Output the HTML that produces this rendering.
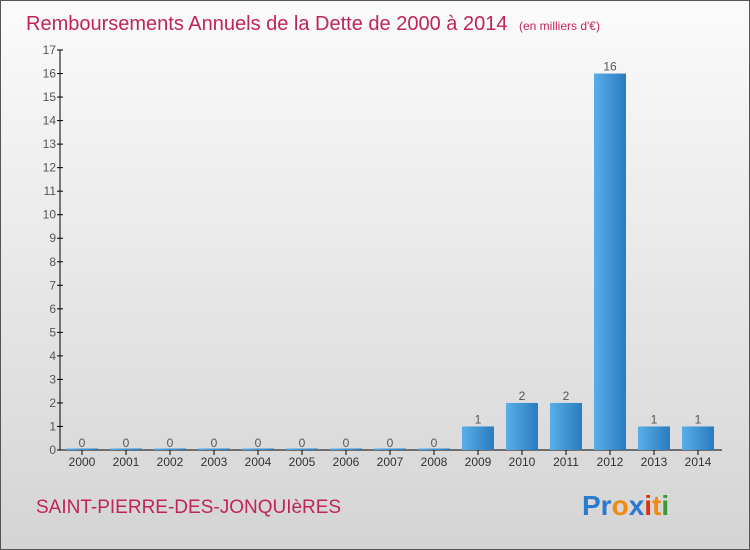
<!DOCTYPE html>
<html><head><meta charset="utf-8"><style>
body{margin:0;width:750px;height:550px;overflow:hidden;font-family:"Liberation Sans",sans-serif}
#wrap{position:absolute;left:0;top:0;width:748px;height:548px;border:1px solid #555;background:linear-gradient(#fbfbfb,#d4d4d4);}
</style></head><body>
<div id="wrap">
<svg width="750" height="550" style="position:absolute;left:-1px;top:-1px">
<defs><linearGradient id="bg" x1="0" x2="1"><stop offset="0" stop-color="#5aaee8"/><stop offset="1" stop-color="#2a7bbf"/></linearGradient>
<linearGradient id="bv" x1="0" y1="0" x2="0" y2="1"><stop offset="0" stop-color="#5cb0ea"/><stop offset="1" stop-color="#2574b6"/></linearGradient></defs>
<text x="26" y="30" font-size="20" fill="#c0245a">Remboursements Annuels de la Dette de 2000 à 2014 <tspan font-size="12" dx="6">(en milliers d'€)</tspan></text>
<g id="axes"></g><g id="bars"></g>
<text x="36" y="513" font-size="19" fill="#c0245a">SAINT-PIERRE-DES-JONQUIèRES</text>
<text x="582" y="515" font-size="28" font-weight="bold"><tspan fill="#2a7bd0">Pr</tspan><tspan fill="#f08a10">o</tspan><tspan fill="#2a7bd0">x</tspan><tspan fill="#e03010">i</tspan><tspan fill="#f08a10">t</tspan><tspan fill="#3a9a30">i</tspan></text>
</svg></div>
<script>
const years=["2000","2001","2002","2003","2004","2005","2006","2007","2008","2009","2010","2011","2012","2013","2014"];
const values=[0,0,0,0,0,0,0,0,0,1,2,2,16,1,1];
const yTicks=[0,1,2,3,4,5,6,7,8,9,10,11,12,13,14,15,16,17];
const NS="http://www.w3.org/2000/svg";
const y0=450,yu=400/17,x0=82,xs=44,bw=32;
const Y=v=>y0-v*yu, X=i=>x0+i*xs;
const ax=document.getElementById('axes'),bg=document.getElementById('bars');
function mk(p,t,a,txt){const e=document.createElementNS(NS,t);for(const k in a)e.setAttribute(k,a[k]);if(txt!==undefined)e.textContent=txt;p.appendChild(e);return e;}
let l=mk(ax,'line',{x1:60,y1:50,x2:60,y2:450,stroke:'#000'});


l=mk(ax,'line',{x1:60,y1:450,x2:722,y2:450,stroke:'#000'});


yTicks.forEach(v=>{mk(ax,'line',{x1:57,y1:Y(v),x2:63,y2:Y(v),stroke:'#000'});
const t=mk(ax,'text',{x:56,y:Y(v)+4,'font-size':12,fill:'#555','text-anchor':'end'},v);

});
years.forEach((yr,i)=>{const x=X(i),v=values[i];
mk(ax,'line',{x1:x,y1:450,x2:x,y2:455,stroke:'#000'});
const t=mk(ax,'text',{x:x,y:466,'font-size':12,fill:'#333','text-anchor':'middle'},yr);


const h=Math.max(v*yu,1.5);
const r=mk(bg,'rect',{x:x-bw/2,y:450-h,width:bw,height:h,fill:'url(#bg)'});


const vl=mk(bg,'text',{x:x,y:450-v*yu-3,'font-size':12,fill:'#555','text-anchor':'middle'},v);

});
</script>
</body></html>
